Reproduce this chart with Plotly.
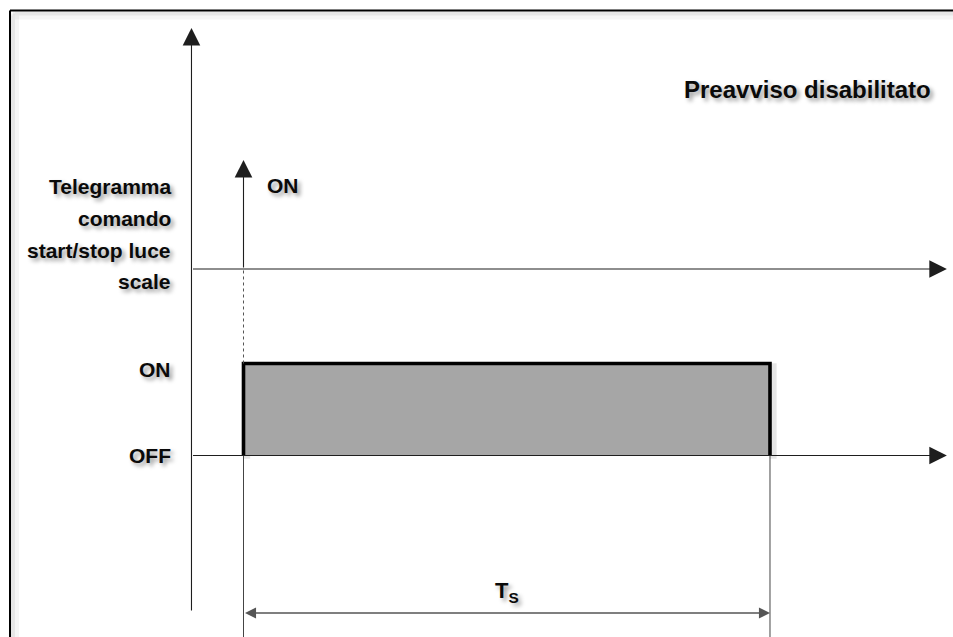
import plotly.graph_objects as go

# ---------------- data ----------------
signal_time = [0, 0, 10, 10]          # command received at t=0, light off after Ts
signal_level = [0, 1, 1, 0]           # OFF = 0, ON = 1
level_values = [0, 1]
level_labels = ["OFF", "ON"]
ts_start = 0
ts_end = 10
telegram_time = 0
telegram_label = "ON"
row_label_lines = ["Telegramma", "comando", "start/stop luce", "scale"]
title_text = "Preavviso disabilitato"
period_label = "T<sub>S</sub>"

# ---------------- layout constants ----------------
X_RANGE = [-4.625, 13.476]
Y_RANGE = [-1.973, 4.951]
AXIS_X0 = -0.988
AXIS_X1 = 13.36
TELEGRAM_Y = 2.027
MAIN_TOP = 4.647
MAIN_BOTTOM = -1.70
TELEGRAM_TOP = 3.212
DIM_Y = -1.712
LABEL_X = -1.339
ROW_LABEL_Y = [2.926, 2.578, 2.23, 1.893]
SHADOW_DX = 0.06   # ~3 px
SHADOW_DY = -0.035

FONT = "Liberation Sans, Arial, sans-serif"
SHADOW = "3px 3px 4px rgba(0,0,0,0.4)"
TXT = dict(family=FONT, size=21, color="#0a0a0a", shadow=SHADOW)
TITLE_TXT = dict(family=FONT, size=24, color="#0a0a0a", shadow=SHADOW)
AX_COLOR = "#1e1e1e"

fig = go.Figure()

# soft shadow of the signal outline
fig.add_trace(go.Scatter(x=[t + SHADOW_DX for t in signal_time],
                         y=[v + SHADOW_DY for v in signal_level], mode="lines",
                         line=dict(color="rgba(0,0,0,0.10)", width=7), hoverinfo="skip",
                         showlegend=False))
# filled signal
fig.add_trace(go.Scatter(x=signal_time, y=signal_level, mode="lines", fill="toself",
                         fillcolor="#a6a6a6", line=dict(width=0), hoverinfo="skip",
                         showlegend=False))
fig.add_trace(go.Scatter(x=signal_time, y=signal_level, mode="lines",
                         line=dict(color="black", width=3.6), hoverinfo="skip",
                         showlegend=False))

shapes = []
# vertical reference lines under the signal
for t in (ts_start, ts_end):
    shapes.append(dict(type="line", xref="x", yref="y", x0=t, x1=t,
                       y0=level_values[0], y1=Y_RANGE[0] - 0.1,
                       line=dict(color="#444444", width=1)))
# dotted link between the telegram and the signal
shapes.append(dict(type="line", xref="x", yref="y", x0=telegram_time, x1=telegram_time,
                   y0=level_values[1], y1=TELEGRAM_Y,
                   line=dict(color="#555555", width=1, dash="dot")))
# frame (left and top borders) with a soft inner shadow
fx = 10 / 953
fy = 1 - 10.5 / 637
for off, w, c in [(5, 8, "rgba(0,0,0,0.04)"), (3, 4, "rgba(0,0,0,0.06)")]:
    ox = off / 953
    oy = off / 637
    shapes.append(dict(type="line", xref="paper", yref="paper", x0=fx + ox, x1=fx + ox,
                       y0=-0.02, y1=fy - oy, line=dict(color=c, width=w)))
    shapes.append(dict(type="line", xref="paper", yref="paper", x0=fx + ox, x1=1.02,
                       y0=fy - oy, y1=fy - oy, line=dict(color=c, width=w)))
shapes.append(dict(type="line", xref="paper", yref="paper", x0=fx, x1=fx, y0=-0.02, y1=fy,
                   line=dict(color="black", width=2)))
shapes.append(dict(type="line", xref="paper", yref="paper", x0=fx, x1=1.02, y0=fy, y1=fy,
                   line=dict(color="black", width=2)))

annotations = []


def arrow(x_tail, y_tail, x_tip, y_tip, size=3.2, width=1.1, color=AX_COLOR, both=False):
    d = dict(x=x_tip, y=y_tip, ax=x_tail, ay=y_tail, xref="x", yref="y",
             axref="x", ayref="y", text="", showarrow=True, arrowhead=2,
             arrowsize=size, arrowwidth=width, arrowcolor=color)
    if both:
        d.update(arrowside="end+start", startarrowhead=2, startarrowsize=size)
    annotations.append(d)


# main axes
arrow(AXIS_X0, MAIN_BOTTOM, AXIS_X0, MAIN_TOP)
arrow(AXIS_X0, TELEGRAM_Y, AXIS_X1, TELEGRAM_Y)
arrow(AXIS_X0, level_values[0], AXIS_X1, level_values[0])
arrow(telegram_time, TELEGRAM_Y, telegram_time, TELEGRAM_TOP)
# Ts dimension
arrow(ts_start, DIM_Y, ts_end, DIM_Y, size=1.7, width=1.3, color="#555555", both=True)

# texts
for line, y in zip(row_label_lines, ROW_LABEL_Y):
    annotations.append(dict(x=LABEL_X, y=y, xref="x", yref="y", text="<b>" + line + "</b>",
                            showarrow=False, xanchor="right", yanchor="middle", font=TXT))
for v, lab, sh in zip(level_values, level_labels, [0, -6]):
    annotations.append(dict(x=LABEL_X, y=v, xref="x", yref="y", text="<b>" + lab + "</b>",
                            showarrow=False, xanchor="right", yanchor="middle",
                            yshift=sh, font=TXT))
annotations.append(dict(x=0.408, y=2.94, xref="x", yref="y", text="<b>" + telegram_label + "</b>",
                        showarrow=False, xanchor="left", yanchor="middle", font=TXT))
annotations.append(dict(x=13.096, y=3.973, xref="x", yref="y", text="<b>" + title_text + "</b>",
                        showarrow=False, xanchor="right", yanchor="middle", font=TITLE_TXT))
annotations.append(dict(x=(ts_start + ts_end) / 2, y=-1.48, xref="x", yref="y",
                        text="<b>" + period_label + "</b>",
                        showarrow=False, xanchor="center", yanchor="middle",
                        font=dict(TXT, size=22)))

fig.update_layout(
    width=953, height=637,
    margin=dict(l=0, r=0, t=0, b=0),
    paper_bgcolor="white", plot_bgcolor="white",
    xaxis=dict(range=X_RANGE, visible=False, fixedrange=True),
    yaxis=dict(range=Y_RANGE, visible=False, fixedrange=True),
    shapes=shapes, annotations=annotations,
    showlegend=False,
)

fig.write_html(
    "out.html",
    config={"displayModeBar": False},
    post_script="document.body.style.margin='0';document.documentElement.style.overflow='hidden';",
)
